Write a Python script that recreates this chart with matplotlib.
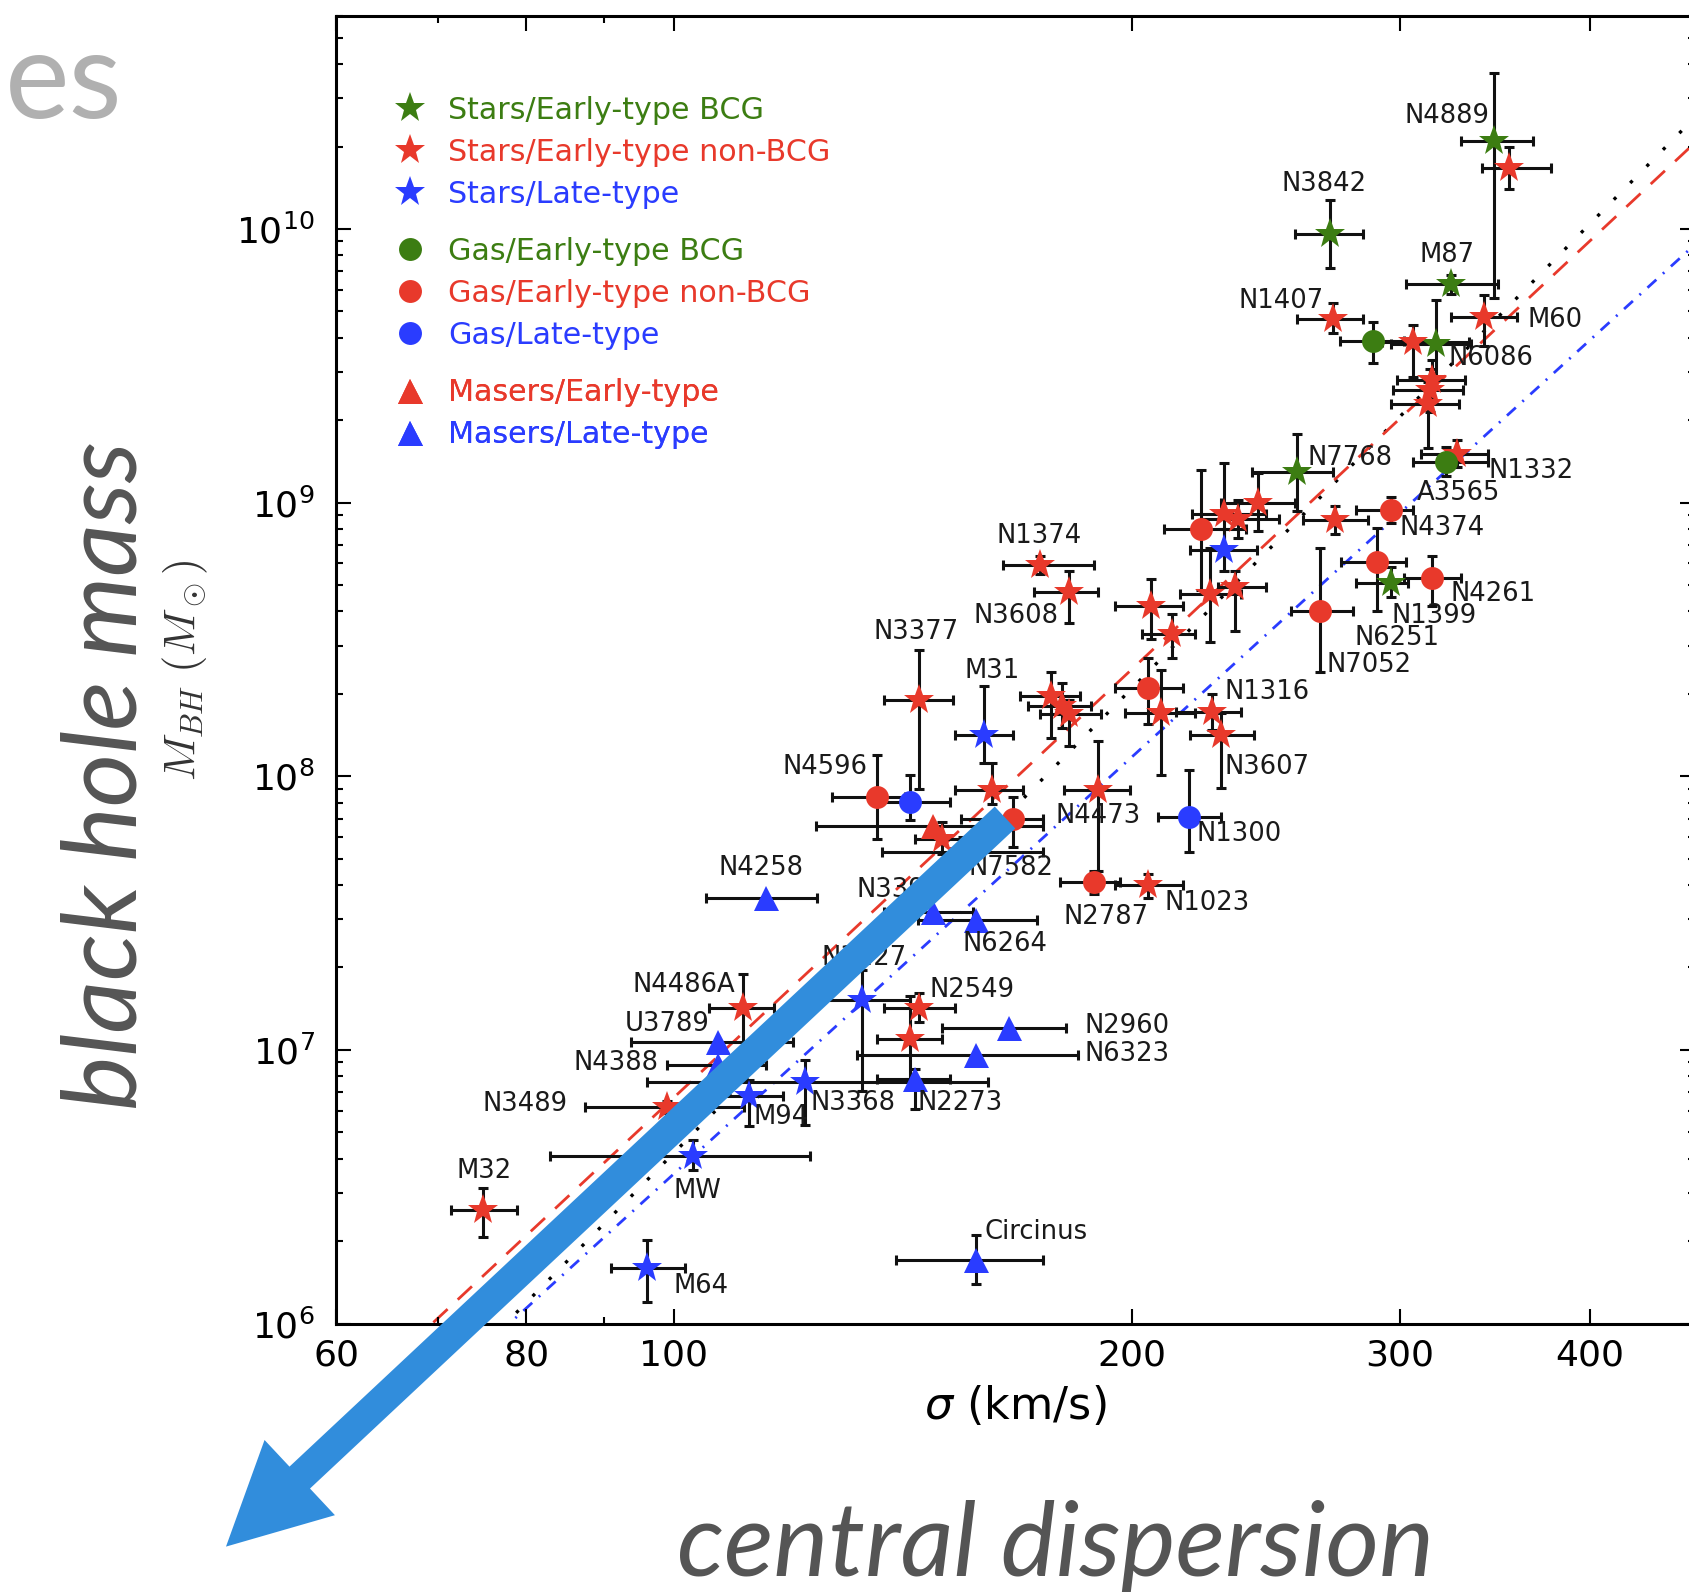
import matplotlib
matplotlib.use("Agg")
import matplotlib.pyplot as plt
import numpy as np
from matplotlib.patches import FancyArrow
from matplotlib.ticker import FixedLocator, NullFormatter, LogLocator

GREEN = '#3c7d12'
RED = '#e8392b'
BLUE = '#2a3cff'

# rows: sigma, sigma_lo, sigma_hi (km/s), M, M_lo, M_hi (Msun)
stars_bcg = [
    (346, 329, 367, 2.1e10, 5.6e9, 3.7e10),     # N4889
    (270, 256, 284, 9.6e9, 7.2e9, 1.28e10),     # N3842
    (324, 303, 348, 6.3e9, 5.8e9, 6.8e9),       # M87
    (317, 296, 334, 3.8e9, 2.8e9, 5.5e9),       # N6086
    (257, 240, 271, 1.29e9, 9.3e8, 1.78e9),     # N7768
    (296, 281, 304, 5.1e8, 4.5e8, 5.8e8),       # N1399
]
stars_early = [
    (354, 340, 377, 1.67e10, 1.40e10, 2.0e10),
    (271, 257, 284, 4.7e9, 4.17e9, 5.37e9),     # N1407
    (306, 292, 333, 3.87e9, 2.88e9, 4.47e9),
    (341, 324, 358, 4.77e9, 3.72e9, 5.75e9),    # M60
    (315, 299, 331, 2.81e9, 2.34e9, 3.31e9),
    (314, 297, 330, 2.57e9, 2.14e9, 3.09e9),
    (313, 296, 328, 2.30e9, 1.58e9, 2.75e9),
    (327, 310, 343, 1.51e9, 1.35e9, 1.70e9),    # N1332
    (272, 259, 286, 8.6e8, 7.7e8, 9.7e8),
    (230, 219, 245, 9.1e8, 6.7e8, 1.39e9),
    (235, 222, 250, 8.7e8, 7.4e8, 1.02e9),
    (242, 229, 256, 1.0e9, 7.9e8, 1.28e9),
    (234, 228, 245, 4.9e8, 3.4e8, 5.6e8),
    (225, 215, 236, 4.65e8, 3.1e8, 6.8e8),
    (206, 195, 216, 4.2e8, 3.16e8, 5.25e8),
    (212.5, 203, 220, 3.3e8, 2.7e8, 3.9e8),
    (174, 164.5, 189, 5.9e8, 5.5e8, 6.4e8),     # N1374
    (182, 172.5, 190, 4.7e8, 3.63e8, 5.62e8),   # N3608
    (145, 137.4, 152.7, 1.9e8, 9.0e7, 2.89e8),  # N3377
    (177, 169, 185, 1.97e8, 1.38e8, 2.4e8),
    (180, 171, 188, 1.8e8, 1.5e8, 2.2e8),
    (182, 174, 191, 1.69e8, 1.29e8, 1.9e8),
    (209, 198, 220, 1.7e8, 1.01e8, 2.45e8),
    (226, 214, 236, 1.72e8, 1.47e8, 2.0e8),     # N1316
    (229, 218.6, 240.6, 1.41e8, 9.06e7, 1.7e8), # N3607
    (190, 180.5, 199.5, 8.9e7, 4.5e7, 1.34e8),  # N4473
    (162, 153, 169.6, 8.9e7, 7.9e7, 1.12e8),
    (150, 144, 158, 5.9e7, 5.2e7, 6.8e7),
    (155, 137, 175, 5.3e7, 4.7e7, 6.0e7),
    (205, 195, 216, 4.0e7, 3.6e7, 4.4e7),       # N1023
    (111, 105.5, 116.4, 1.42e7, 1.0e7, 1.9e7),  # N4486A
    (145, 137.5, 153, 1.42e7, 1.26e7, 1.62e7),  # N2549
    (143, 136, 150, 1.1e7, 7.8e6, 1.57e7),
    (99, 87.5, 111.3, 6.2e6, 5.9e6, 6.5e6),     # N3489
    (75, 71.4, 78.9, 2.6e6, 2.07e6, 3.12e6),    # M32
]
stars_late = [
    (230, 218.6, 241.8, 6.7e8, 5.6e8, 8.0e8),
    (160, 153, 167, 1.41e8, 1.12e8, 2.14e8),    # M31
    (133, 124.4, 143.1, 1.52e7, 7.1e6, 1.95e7), # N3227
    (122, 96, 161, 7.6e6, 5.3e6, 9.2e6),        # N3368
    (112, 103, 118, 6.8e6, 5.25e6, 7.76e6),     # M94
    (103, 83, 123, 4.1e6, 3.63e6, 4.68e6),      # MW
    (96, 91, 101.7, 1.6e6, 1.2e6, 2.02e6),      # M64
]
gas_bcg = [
    (288, 274, 302, 3.9e9, 3.24e9, 4.57e9),
    (322, 306, 343, 1.41e9, 1.25e9, 1.6e9),     # A3565
]
gas_early = [
    (222, 210, 237.6, 8.0e8, 4.8e8, 1.31e9),
    (296, 281, 306, 9.4e8, 8.4e8, 1.05e9),      # N4374
    (290, 274.5, 303, 6.07e8, 4.0e8, 8.05e8),   # N6251
    (315, 302, 329, 5.3e8, 4.2e8, 6.4e8),       # N4261
    (266, 254.6, 279.5, 4.0e8, 2.4e8, 6.8e8),   # N7052
    (205, 195, 216, 2.1e8, 1.55e8, 2.7e8),
    (136, 127, 142, 8.4e7, 5.9e7, 1.2e8),       # N4596
    (167, 154.5, 175, 7.0e7, 5.5e7, 8.4e7),     # N7582
    (189, 179.4, 196.6, 4.1e7, 3.7e7, 4.5e7),   # N2787
]
gas_late = [
    (143, 136, 152, 8.05e7, 6.9e7, 1.01e8),
    (218, 208, 229, 7.1e7, 5.3e7, 1.05e8),      # N1300
]
masers_early = [
    (148, 124, 175, 6.6e7, 6.6e7, 6.6e7),
]
masers_late = [
    (115, 105, 124.3, 3.6e7, 3.6e7, 3.6e7),     # N4258
    (148, 137.5, 157.3, 3.2e7, 3.2e7, 3.2e7),   # N3393
    (158, 144.7, 173.4, 2.98e7, 2.98e7, 2.98e7),# N6264
    (166, 150, 181, 1.2e7, 1.2e7, 1.2e7),       # N2960
    (158, 132, 184.5, 9.6e6, 9.6e6, 9.6e6),     # N6323
    (144, 136, 152, 7.8e6, 6.07e6, 8.5e6),      # N2273
    (107, 93.7, 119.8, 1.07e7, 1.07e7, 1.07e7), # U3789
    (107, 99, 115, 8.8e6, 8.8e6, 8.8e6),        # N4388
    (158, 140, 175, 1.7e6, 1.4e6, 2.11e6),      # Circinus
]

# fit lines, end points at sigma = 60 and 470
fit_sig = [60, 470]
fit_all = [2.35e5, 2.59e10]
fit_early = [4.69e5, 2.09e10]
fit_late = [2.65e5, 8.87e9]

# galaxy names (text anchor: left edge, vertical centre)
names = [
    ("N4889", 302, 2.59e10), ("N3842", 251, 1.46e10), ("M87", 309, 8.05e9),
    ("N1407", 235, 5.45e9), ("M60", 364, 4.63e9), ("N6086", 323, 3.37e9),
    ("N7768", 261, 1.46e9), ("N1332", 343, 1.30e9), ("A3565", 308, 1.08e9),
    ("N4374", 300, 8.05e8), ("N1374", 163, 7.55e8), ("N4261", 324, 4.63e8),
    ("N1399", 296.5, 3.86e8), ("N3608", 157.4, 3.86e8), ("N6251", 280, 3.19e8),
    ("N3377", 135.3, 3.37e8), ("N7052", 268.4, 2.54e8), ("M31", 155.4, 2.43e8),
    ("N1316", 230.2, 2.03e8), ("N4596", 117.9, 1.08e8), ("N3607", 230.2, 1.08e8),
    ("N4473", 178.2, 7.15e7), ("N1300", 220.7, 6.13e7), ("N7582", 156.2, 4.63e7),
    ("N4258", 107.1, 4.63e7), ("N3393", 131.9, 3.83e7), ("N2787", 180.3, 3.05e7),
    ("N1023", 210.1, 3.43e7), ("N6264", 154.8, 2.43e7), ("N3227", 125.0, 2.16e7),
    ("N4486A", 94.0, 1.72e7), ("N2549", 147.2, 1.65e7), ("U3789", 92.9, 1.24e7),
    ("N2960", 186.2, 1.22e7), ("N6323", 186.2, 9.64e6), ("N4388", 86.0, 8.97e6),
    ("N3489", 74.9, 6.35e6), ("N3368", 123.0, 6.41e6), ("N2273", 144.6, 6.41e6),
    ("M94", 112.8, 5.70e6), ("M32", 72.0, 3.62e6), ("MW", 100, 3.05e6),
    ("Circinus", 160.0, 2.16e6), ("M64", 100, 1.37e6),
]

groups = [
    ("Stars/Early-type BCG", stars_bcg, '*', GREEN),
    ("Stars/Early-type non-BCG", stars_early, '*', RED),
    ("Stars/Late-type", stars_late, '*', BLUE),
    ("Gas/Early-type BCG", gas_bcg, 'o', GREEN),
    ("Gas/Early-type non-BCG", gas_early, 'o', RED),
    ("Gas/Late-type", gas_late, 'o', BLUE),
    ("Masers/Early-type", masers_early, '^', RED),
    ("Masers/Late-type", masers_late, '^', BLUE),
]
msize = {'*': 23, 'o': 16.5, '^': 18}

fig = plt.figure(figsize=(16.9, 15.92), dpi=100)
ax = fig.add_axes([336/1690, (1592-1323.5)/1592, (1695-336)/1690, (1323.5-16)/1592])
ax.set_xscale('log')
ax.set_yscale('log')

ax.plot(fit_sig, fit_all, color='black', lw=2.4, ls=(0, (1, 6)), zorder=1)
ax.plot(fit_sig, fit_early, color=RED, lw=2.0, ls=(0, (7, 5)), zorder=1)
ax.plot(fit_sig, fit_late, color=BLUE, lw=2.0, ls=(0, (4.3, 3.2, 0.7, 3.2)), zorder=1)

handles = []
for label, rows, mk, col in groups:
    d = np.array(rows, dtype=float)
    s, slo, shi, m, mlo, mhi = d.T
    ax.errorbar(s, m, xerr=[s - slo, shi - s], yerr=[m - mlo, mhi - m], fmt='none',
                ecolor='#111111', elinewidth=2.2, capsize=3.8, capthick=2.2, zorder=2)
    h, = ax.plot(s, m, ls='none', marker=mk, ms=msize[mk], color=col, mec=col, mew=0,
                 zorder=3, label=label)
    handles.append(h)

for nm, x, y in names:
    ax.text(x, y, nm, fontsize=18.6, color='#1a1a1a', ha='left', va='center', zorder=4)

ax.set_xlim(60, 469)
ax.set_ylim(1e6, 6.0e10)

ax.xaxis.set_major_locator(FixedLocator([60, 80, 100, 200, 300, 400]))
ax.xaxis.set_minor_locator(FixedLocator([70, 90]))
ax.set_xticklabels(['60', '80', '100', '200', '300', '400'])
ax.xaxis.set_minor_formatter(NullFormatter())
ax.yaxis.set_major_locator(LogLocator(base=10, numticks=20))
ax.yaxis.set_minor_locator(LogLocator(base=10, subs=np.arange(2, 10), numticks=20))
ax.yaxis.set_minor_formatter(NullFormatter())

ax.tick_params(which='both', direction='in', top=True, right=True, width=1.5, colors='black')
ax.tick_params(which='major', length=11)
ax.tick_params(which='minor', length=5)
ax.tick_params(axis='x', which='major', labelsize=26, pad=11)
ax.tick_params(axis='y', which='major', labelsize=26, pad=15)
for sp in ax.spines.values():
    sp.set_linewidth(2.2)

ax.set_xlabel(r'$\sigma$ (km/s)', fontsize=32, labelpad=8)
ax.set_ylabel(r'$M_{BH}\ (M_\odot)$', fontsize=32, labelpad=19, color='#333333',
              math_fontfamily='cm')

legend_tops = [0.939, 0.831, 0.723]
for i, (a, b) in enumerate([(0, 3), (3, 6), (6, 8)]):
    leg = ax.legend(handles=handles[a:b], loc='upper left', bbox_to_anchor=(0.0434, legend_tops[i]),
                    frameon=False, fontsize=21.7, borderpad=0, borderaxespad=0,
                    handlelength=1.0, handletextpad=0.77, labelspacing=0.43,
                    numpoints=1, labelcolor='markerfacecolor')
    ax.add_artist(leg)

# slide overlay: arrow and captions
arrow = FancyArrow(10.05, 7.745, -7.79, -7.291, width=0.30, head_width=1.03, head_length=1.01,
                   length_includes_head=True, color='#318ddc', lw=0,
                   transform=fig.dpi_scale_trans, zorder=10)
fig.add_artist(arrow)

fig.text(5/1690, (1592-118)/1592, 'es', fontsize=88, color='#b0b0b0', family='Lato',
         ha='left', va='baseline')
fig.text(137/1690, (1592-776)/1592, 'black hole mass', fontsize=74, color='#555555',
         family='Lato', style='italic', rotation=90, rotation_mode='anchor',
         ha='center', va='baseline')
fig.text(677/1690, (1592-1576)/1592, 'central dispersion', fontsize=74.5, color='#555555',
         family='Lato', style='italic', ha='left', va='baseline')

fig.savefig('out.png', dpi=100)
